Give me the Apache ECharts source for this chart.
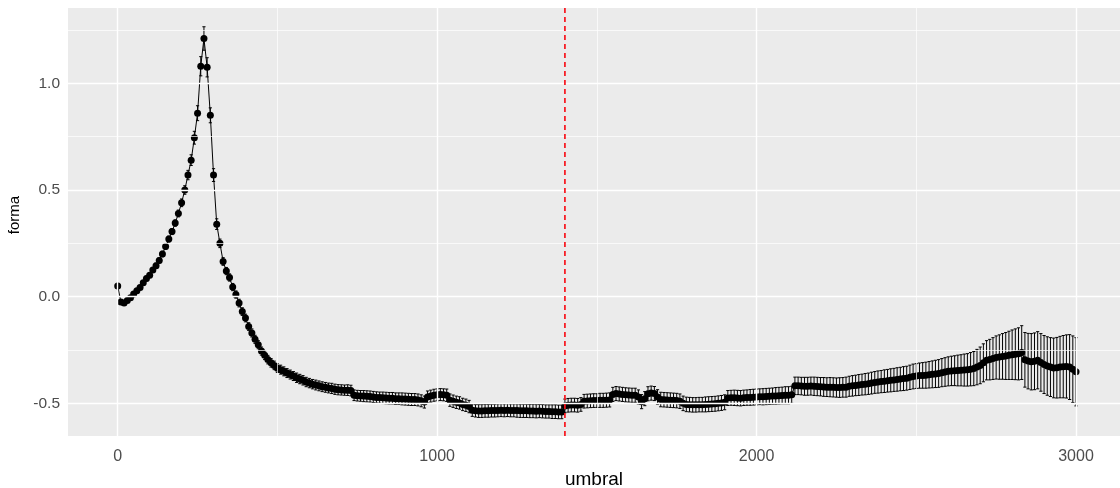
<!DOCTYPE html>
<html>
<head>
<meta charset="utf-8">
<title>forma vs umbral</title>
<script src="https://cdn.jsdelivr.net/npm/echarts@6/dist/echarts.min.js"></script>
<style>
  html, body { margin: 0; padding: 0; background: #ffffff; }
  #chart { width: 1120px; height: 488px; }
</style>
</head>
<body>
<div id="chart"></div>
<script>
// Threshold values (x)
const umbral = [
  0, 10, 20, 30, 40, 50, 60, 70, 80, 90,
  100, 110, 120, 130, 140, 150, 160, 170, 180, 190,
  200, 210, 220, 230, 240, 250, 260, 270, 280, 290,
  300, 310, 320, 330, 340, 350, 360, 370, 380, 390,
  400, 410, 420, 430, 440, 450, 460, 470, 480, 490,
  500, 510, 520, 530, 540, 550, 560, 570, 580, 590,
  600, 610, 620, 630, 640, 650, 660, 670, 680, 690,
  700, 710, 720, 730, 740, 750, 760, 770, 780, 790,
  800, 810, 820, 830, 840, 850, 860, 870, 880, 890,
  900, 910, 920, 930, 940, 950, 960, 970, 980, 990,
  1000, 1010, 1020, 1030, 1040, 1050, 1060, 1070, 1080, 1090,
  1100, 1110, 1120, 1130, 1140, 1150, 1160, 1170, 1180, 1190,
  1200, 1210, 1220, 1230, 1240, 1250, 1260, 1270, 1280, 1290,
  1300, 1310, 1320, 1330, 1340, 1350, 1360, 1370, 1380, 1390,
  1400, 1410, 1420, 1430, 1440, 1450, 1460, 1470, 1480, 1490,
  1500, 1510, 1520, 1530, 1540, 1550, 1560, 1570, 1580, 1590,
  1600, 1610, 1620, 1630, 1640, 1650, 1660, 1670, 1680, 1690,
  1700, 1710, 1720, 1730, 1740, 1750, 1760, 1770, 1780, 1790,
  1800, 1810, 1820, 1830, 1840, 1850, 1860, 1870, 1880, 1890,
  1900, 1910, 1920, 1930, 1940, 1950, 1960, 1970, 1980, 1990,
  2000, 2010, 2020, 2030, 2040, 2050, 2060, 2070, 2080, 2090,
  2100, 2110, 2120, 2130, 2140, 2150, 2160, 2170, 2180, 2190,
  2200, 2210, 2220, 2230, 2240, 2250, 2260, 2270, 2280, 2290,
  2300, 2310, 2320, 2330, 2340, 2350, 2360, 2370, 2380, 2390,
  2400, 2410, 2420, 2430, 2440, 2450, 2460, 2470, 2480, 2490,
  2500, 2510, 2520, 2530, 2540, 2550, 2560, 2570, 2580, 2590,
  2600, 2610, 2620, 2630, 2640, 2650, 2660, 2670, 2680, 2690,
  2700, 2710, 2720, 2730, 2740, 2750, 2760, 2770, 2780, 2790,
  2800, 2810, 2820, 2830, 2840, 2850, 2860, 2870, 2880, 2890,
  2900, 2910, 2920, 2930, 2940, 2950, 2960, 2970, 2980, 2990,
  3000
];

// Estimated shape parameter at each threshold
const forma = [
  0.050, -0.025, -0.030, -0.018, -0.005, 0.012, 0.028, 0.043, 0.065, 0.085,
  0.100, 0.125, 0.145, 0.170, 0.200, 0.235, 0.270, 0.305, 0.345, 0.390,
  0.440, 0.500, 0.570, 0.640, 0.745, 0.860, 1.080, 1.210, 1.075, 0.850,
  0.570, 0.340, 0.250, 0.165, 0.120, 0.090, 0.045, 0.010, -0.030, -0.070,
  -0.100, -0.140, -0.170, -0.200, -0.225, -0.255, -0.275, -0.295, -0.310, -0.322,
  -0.335, -0.342, -0.350, -0.358, -0.365, -0.372, -0.380, -0.386, -0.392, -0.400,
  -0.405, -0.410, -0.414, -0.418, -0.422, -0.425, -0.428, -0.430, -0.434, -0.436,
  -0.437, -0.438, -0.438, -0.440, -0.462, -0.464, -0.465, -0.466, -0.467, -0.468,
  -0.470, -0.472, -0.473, -0.474, -0.475, -0.476, -0.476, -0.478, -0.478, -0.479,
  -0.480, -0.481, -0.482, -0.482, -0.484, -0.488, -0.494, -0.470, -0.466, -0.462,
  -0.460, -0.459, -0.460, -0.462, -0.485, -0.490, -0.495, -0.498, -0.505, -0.509,
  -0.515, -0.532, -0.535, -0.536, -0.536, -0.535, -0.535, -0.534, -0.534, -0.533,
  -0.532, -0.533, -0.532, -0.533, -0.533, -0.534, -0.535, -0.535, -0.535, -0.536,
  -0.536, -0.537, -0.536, -0.537, -0.538, -0.538, -0.539, -0.539, -0.540, -0.540,
  -0.512, -0.509, -0.508, -0.508, -0.509, -0.505, -0.490, -0.489, -0.488, -0.487,
  -0.487, -0.486, -0.486, -0.485, -0.484, -0.458, -0.454, -0.456, -0.458, -0.460,
  -0.461, -0.462, -0.462, -0.470, -0.492, -0.478, -0.455, -0.452, -0.454, -0.470,
  -0.482, -0.483, -0.484, -0.485, -0.486, -0.487, -0.490, -0.500, -0.505, -0.506,
  -0.507, -0.507, -0.506, -0.506, -0.505, -0.504, -0.503, -0.502, -0.500, -0.498,
  -0.495, -0.475, -0.474, -0.474, -0.475, -0.476, -0.474, -0.473, -0.472, -0.471,
  -0.470, -0.469, -0.469, -0.468, -0.467, -0.466, -0.465, -0.464, -0.463, -0.462,
  -0.462, -0.460, -0.418, -0.418, -0.419, -0.420, -0.420, -0.419, -0.420, -0.421,
  -0.422, -0.423, -0.424, -0.424, -0.425, -0.426, -0.426, -0.425, -0.424, -0.420,
  -0.418, -0.416, -0.414, -0.412, -0.410, -0.408, -0.405, -0.402, -0.400, -0.398,
  -0.396, -0.394, -0.392, -0.390, -0.388, -0.386, -0.384, -0.382, -0.378, -0.374,
  -0.372, -0.370, -0.369, -0.368, -0.366, -0.364, -0.362, -0.360, -0.356, -0.353,
  -0.350, -0.348, -0.347, -0.346, -0.345, -0.344, -0.343, -0.340, -0.337, -0.330,
  -0.322, -0.310, -0.298, -0.295, -0.290, -0.285, -0.283, -0.280, -0.278, -0.275,
  -0.272, -0.270, -0.268, -0.262, -0.296, -0.302, -0.305, -0.303, -0.298, -0.308,
  -0.318, -0.325, -0.330, -0.334, -0.333, -0.330, -0.328, -0.327, -0.330, -0.340,
  -0.352
];

// Half-width of the error bar at each threshold
const margen = [
  0.012, 0.010, 0.010, 0.010, 0.010, 0.010, 0.010, 0.010, 0.010, 0.011,
  0.011, 0.011, 0.012, 0.012, 0.013, 0.013, 0.014, 0.014, 0.015, 0.016,
  0.018, 0.020, 0.022, 0.025, 0.030, 0.035, 0.045, 0.055, 0.045, 0.035,
  0.030, 0.025, 0.020, 0.018, 0.017, 0.017, 0.017, 0.017, 0.018, 0.018,
  0.018, 0.018, 0.019, 0.019, 0.019, 0.019, 0.020, 0.020, 0.020, 0.020,
  0.020, 0.021, 0.021, 0.021, 0.021, 0.021, 0.022, 0.022, 0.022, 0.022,
  0.022, 0.022, 0.023, 0.023, 0.023, 0.023, 0.023, 0.024, 0.024, 0.024,
  0.024, 0.024, 0.025, 0.025, 0.025, 0.025, 0.025, 0.026, 0.026, 0.026,
  0.026, 0.026, 0.026, 0.027, 0.027, 0.027, 0.027, 0.027, 0.027, 0.028,
  0.028, 0.028, 0.028, 0.028, 0.028, 0.028, 0.028, 0.028, 0.028, 0.028,
  0.028, 0.028, 0.028, 0.029, 0.029, 0.029, 0.029, 0.029, 0.029, 0.029,
  0.029, 0.029, 0.029, 0.030, 0.030, 0.030, 0.030, 0.030, 0.030, 0.030,
  0.030, 0.030, 0.030, 0.030, 0.030, 0.031, 0.031, 0.031, 0.031, 0.031,
  0.031, 0.031, 0.031, 0.031, 0.031, 0.031, 0.032, 0.032, 0.032, 0.032,
  0.032, 0.032, 0.032, 0.032, 0.032, 0.032, 0.032, 0.032, 0.032, 0.032,
  0.032, 0.033, 0.033, 0.033, 0.033, 0.033, 0.033, 0.033, 0.033, 0.033,
  0.033, 0.033, 0.033, 0.033, 0.033, 0.033, 0.033, 0.033, 0.033, 0.034,
  0.034, 0.034, 0.034, 0.034, 0.034, 0.034, 0.034, 0.034, 0.034, 0.034,
  0.034, 0.034, 0.034, 0.034, 0.035, 0.035, 0.035, 0.035, 0.035, 0.035,
  0.035, 0.035, 0.035, 0.036, 0.036, 0.036, 0.036, 0.036, 0.037, 0.037,
  0.037, 0.037, 0.038, 0.038, 0.038, 0.038, 0.039, 0.039, 0.039, 0.040,
  0.040, 0.040, 0.041, 0.041, 0.041, 0.042, 0.042, 0.042, 0.043, 0.043,
  0.043, 0.044, 0.044, 0.045, 0.045, 0.045, 0.046, 0.046, 0.047, 0.047,
  0.048, 0.048, 0.049, 0.049, 0.050, 0.050, 0.051, 0.051, 0.052, 0.052,
  0.053, 0.053, 0.054, 0.054, 0.055, 0.055, 0.056, 0.056, 0.057, 0.058,
  0.058, 0.059, 0.060, 0.061, 0.062, 0.063, 0.064, 0.065, 0.066, 0.067,
  0.068, 0.069, 0.070, 0.072, 0.073, 0.075, 0.076, 0.078, 0.080, 0.083,
  0.086, 0.089, 0.092, 0.095, 0.098, 0.101, 0.104, 0.107, 0.110, 0.113,
  0.116, 0.119, 0.122, 0.126, 0.128, 0.130, 0.132, 0.133, 0.134, 0.135,
  0.136, 0.137, 0.138, 0.140, 0.142, 0.144, 0.146, 0.148, 0.152, 0.156,
  0.160
];

// Axis breaks and reference threshold
const xMajor = [0, 1000, 2000, 3000];
const xMinor = [500, 1500, 2500];
const yMajor = [-0.5, 0, 0.5, 1.0];
const yMinor = [-0.25, 0.25, 0.75, 1.25];
const umbralRef = [1400];

const FONT = "'Liberation Sans', Arial, sans-serif";

const chart = echarts.init(document.getElementById('chart'), null, { renderer: 'canvas' });

const errorData = umbral.map((u, i) => [u, forma[i] - margen[i], forma[i] + margen[i]]);
const pointData = umbral.map((u, i) => [u, forma[i]]);

function gridLine(axis, v, width) {
  const item = { lineStyle: { color: '#ffffff', width: width, type: 'solid' } };
  item[axis] = v;
  return item;
}

const gridLines = []
  .concat(xMinor.map(v => gridLine('xAxis', v, 0.7)))
  .concat(yMinor.map(v => gridLine('yAxis', v, 0.7)))
  .concat(xMajor.map(v => gridLine('xAxis', v, 1.4)))
  .concat(yMajor.map(v => gridLine('yAxis', v, 1.4)));

chart.setOption({
  animation: false,
  backgroundColor: '#ffffff',
  grid: {
    left: 68, right: 0, top: 8, bottom: 52,
    outerBoundsMode: 'none',
    containLabel: false,
    show: true, backgroundColor: '#EBEBEB', borderWidth: 0
  },
  xAxis: {
    type: 'value',
    min: -155.6, max: 3137.7,
    name: 'umbral',
    nameLocation: 'middle',
    nameGap: 29,
    nameTextStyle: { fontFamily: FONT, fontSize: 19, color: '#000000' },
    axisLine: { show: false },
    axisTick: { show: true, customValues: xMajor, length: 4, lineStyle: { color: '#333333', width: 1 } },
    axisLabel: {
      show: true, customValues: xMajor, margin: 13,
      fontFamily: FONT, fontSize: 16, color: '#4D4D4D',
      formatter: v => String(v)
    },
    splitLine: { show: false }
  },
  yAxis: {
    type: 'value',
    min: -0.653, max: 1.353,
    name: 'forma',
    nameLocation: 'middle',
    nameGap: 34,
    nameRotate: 90,
    nameTextStyle: { fontFamily: FONT, fontSize: 15, color: '#000000', padding: [0, 0, 0, 14] },
    axisLine: { show: false },
    axisTick: { show: true, customValues: yMajor, length: 4, lineStyle: { color: '#333333', width: 1 } },
    axisLabel: {
      show: true, customValues: yMajor, margin: 8,
      fontFamily: FONT, fontSize: 15.5, color: '#4D4D4D',
      formatter: v => v.toFixed(1)
    },
    splitLine: { show: false }
  },
  series: [
    {
      // panel grid lines
      type: 'line',
      data: [],
      silent: true,
      z: 0,
      markLine: {
        silent: true,
        symbol: ['none', 'none'],
        label: { show: false },
        emphasis: { disabled: true },
        animation: false,
        data: gridLines
      }
    },
    {
      // error bars
      type: 'custom',
      z: 2,
      silent: true,
      data: errorData,
      encode: { x: 0, y: [1, 2] },
      renderItem: function (params, api) {
        const x = api.value(0);
        const lo = api.coord([x, api.value(1)]);
        const hi = api.coord([x, api.value(2)]);
        const cap = 1.6;
        const st = { stroke: '#000000', lineWidth: 1 };
        return {
          type: 'group',
          children: [
            { type: 'line', shape: { x1: lo[0], y1: lo[1], x2: hi[0], y2: hi[1] }, style: st },
            { type: 'line', shape: { x1: lo[0] - cap, y1: lo[1], x2: lo[0] + cap, y2: lo[1] }, style: st },
            { type: 'line', shape: { x1: hi[0] - cap, y1: hi[1], x2: hi[0] + cap, y2: hi[1] }, style: st }
          ]
        };
      }
    },
    {
      // estimates joined by a line
      type: 'line',
      z: 3,
      data: pointData,
      symbol: 'circle',
      symbolSize: 7,
      showAllSymbol: true,
      itemStyle: { color: '#000000' },
      lineStyle: { color: '#000000', width: 1 },
      silent: true
    },
    {
      // selected threshold: dashed red vertical line across the panel
      type: 'custom',
      z: 5,
      silent: true,
      data: umbralRef.map(v => [v, 0]),
      encode: { x: 0, y: 1 },
      renderItem: function (params, api) {
        const cs = params.coordSys;
        const p = api.coord([api.value(0), 0]);
        return {
          type: 'line',
          shape: { x1: p[0], y1: cs.y, x2: p[0], y2: cs.y + cs.height },
          style: { stroke: '#F8141C', lineWidth: 1.7, lineDash: [5, 4] }
        };
      }
    }
  ]
});
</script>
</body>
</html>
